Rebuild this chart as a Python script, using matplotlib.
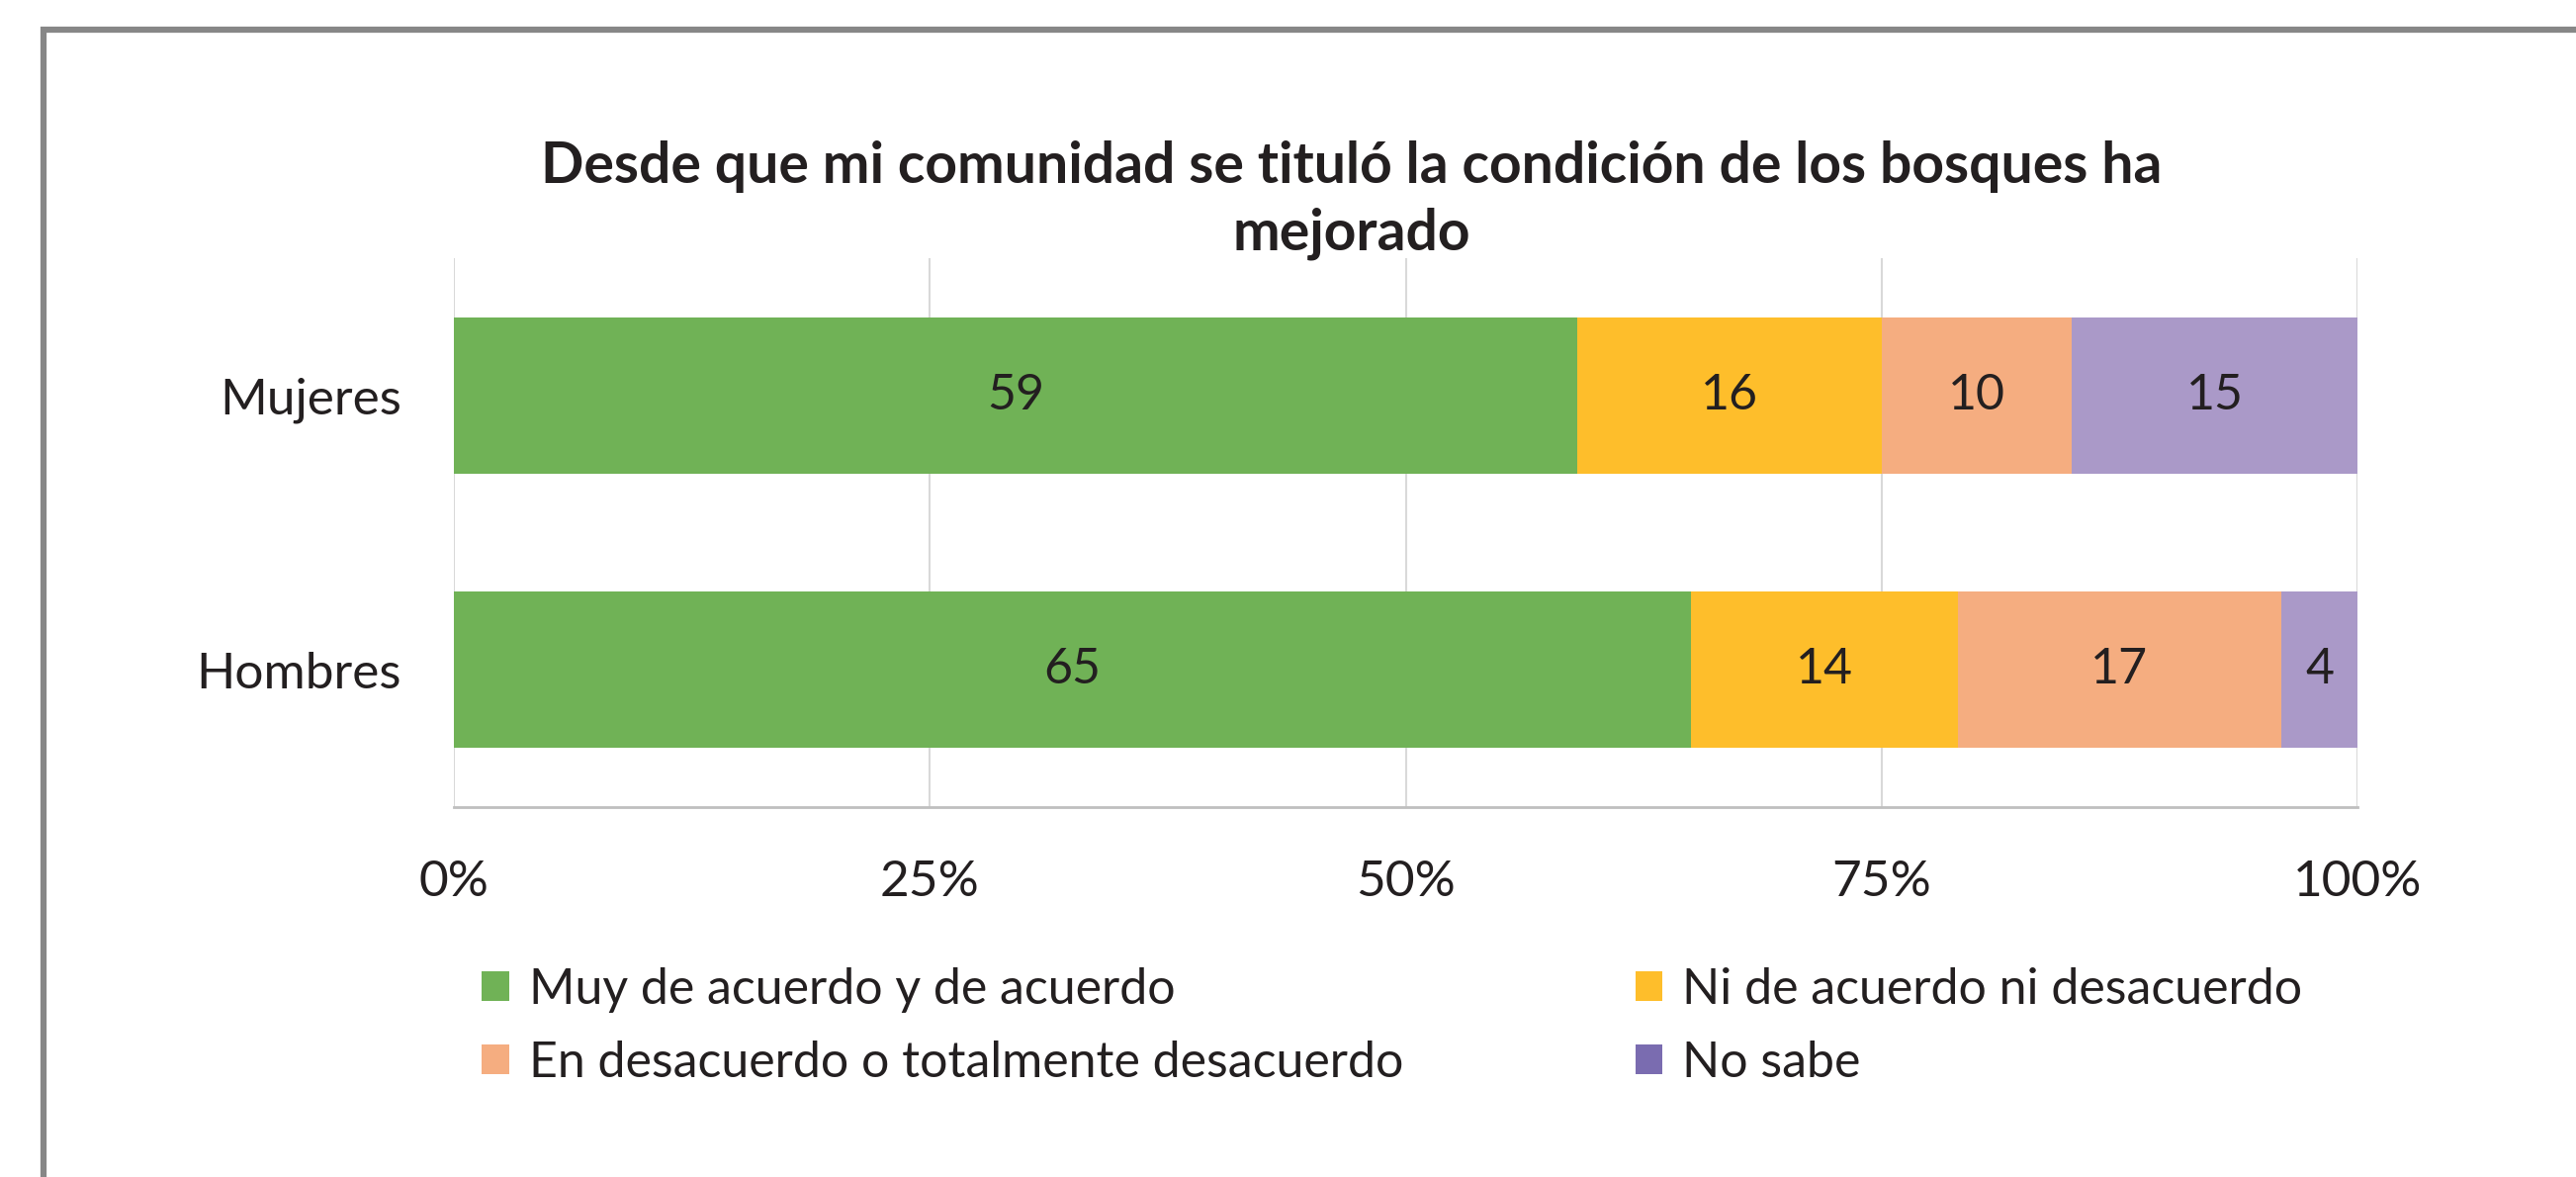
import matplotlib.pyplot as plt
from matplotlib.patches import Patch, Rectangle
import numpy as np

plt.rcParams['font.family'] = ['Lato', 'DejaVu Sans']

# data
categories = ['Hombres', 'Mujeres']
series_names = ['Muy de acuerdo y de acuerdo', 'Ni de acuerdo ni desacuerdo',
                'En desacuerdo o totalmente desacuerdo', 'No sabe']
values = {
    'Muy de acuerdo y de acuerdo': [65, 59],
    'Ni de acuerdo ni desacuerdo': [14, 16],
    'En desacuerdo o totalmente desacuerdo': [17, 10],
    'No sabe': [4, 15],
}
bar_colors = ['#70b256', '#febe2b', '#f5ad80', '#aa99c8']
legend_colors = ['#70b256', '#febe2b', '#f5ad80', '#7a6cb0']
xticks = [0, 25, 50, 75, 100]
title = 'Desde que mi comunidad se tituló la condición de los bosques ha\nmejorado'

text_color = '#231f20'

fig = plt.figure(figsize=(26.05, 11.9), dpi=100)
ax = fig.add_axes([0.1762, 0.3143, 0.9152 - 0.1762, 0.7807 - 0.3143])

y = np.arange(len(categories))
left = np.zeros(len(categories))
for name, col in zip(series_names, bar_colors):
    vals = np.array(values[name], dtype=float)
    bars = ax.barh(y, vals, left=left, height=0.57, color=col, zorder=2)
    for b, v in zip(bars, vals):
        ax.text(b.get_x() + b.get_width() / 2, b.get_y() + b.get_height() / 2,
                f'{int(v)}', ha='center', va='center', fontsize=36, color=text_color, zorder=3)
    left += vals

ax.set_xlim(0, 100)
ax.set_ylim(-0.5, 1.5)
ax.set_yticks(y)
ax.set_yticklabels(categories, fontsize=37, color=text_color)
ax.set_xticks(xticks)
ax.set_xticklabels([f'{t}%' for t in xticks], fontsize=37, color=text_color)
ax.tick_params(axis='both', length=0)
ax.tick_params(axis='y', pad=38)
ax.tick_params(axis='x', pad=38)
ax.grid(axis='x', color='#d9d9d9', linewidth=1.5, zorder=0)
for s in ['top', 'right', 'left']:
    ax.spines[s].set_visible(False)
ax.spines['bottom'].set_color('#bfbfbf')
ax.spines['bottom'].set_linewidth(2)

fig.text(0.5248, 0.83, title, ha='center', va='center', fontsize=41,
         fontweight='bold', color=text_color, linespacing=1.35)

# legend: matplotlib fills columns first, reorder so rows read like the reference
order = [0, 2, 1, 3]
handles = [Patch(facecolor=legend_colors[i], edgecolor='none') for i in order]
labels = [series_names[i] for i in order]
leg = fig.legend(handles, labels, loc='upper left', bbox_to_anchor=(0.1697, 0.216),
                 ncol=2, frameon=False, fontsize=36, handlelength=0.55, handleheight=0.55,
                 handletextpad=0.4, columnspacing=4.7, labelspacing=0.56)
for t in leg.get_texts():
    t.set_color(text_color)

# outer chart border (only top and left visible in the crop)
fig.patches.append(Rectangle((44 / 2605, -0.1), 1.2, 1.1 - 30 / 1190,
                             transform=fig.transFigure, fill=False,
                             edgecolor='#878787', linewidth=4.5))

fig.savefig('out.png', dpi=100)
